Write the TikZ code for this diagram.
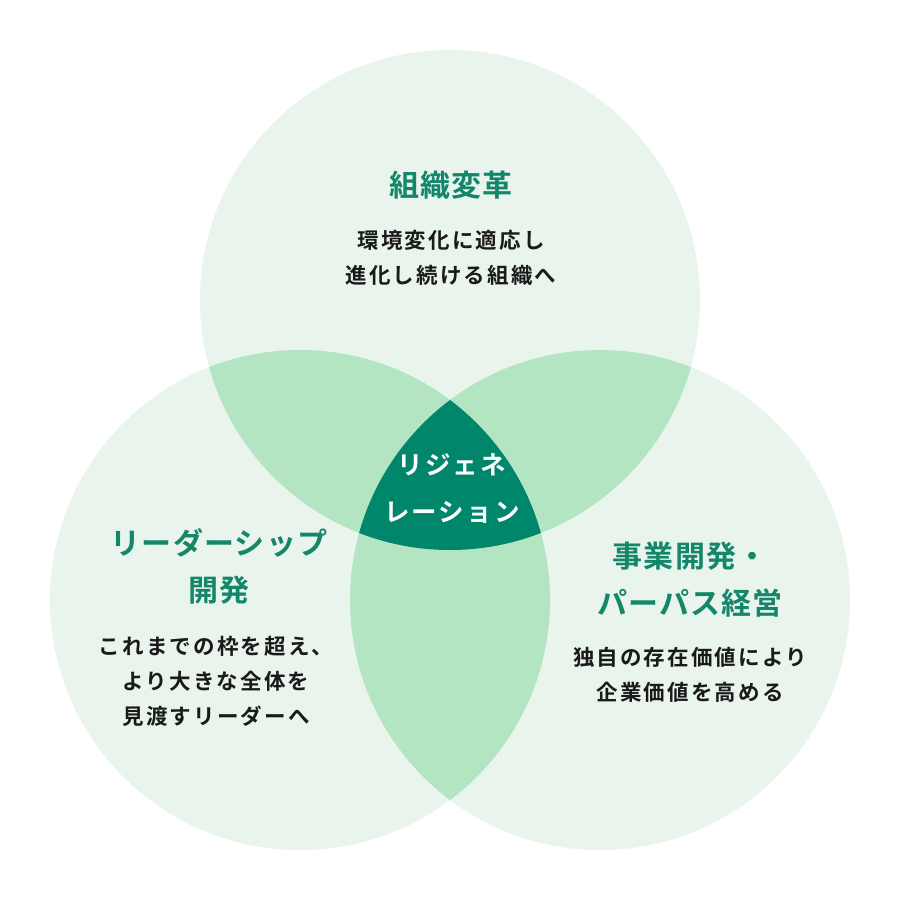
\documentclass[tikz,border=0pt]{standalone}
\usepackage{fontspec}
\newfontfamily\jtitle[LetterSpace=4]{Noto Sans CJK JP Bold}
\newfontfamily\jbody[LetterSpace=10]{Noto Sans CJK JP Bold}
\newfontfamily\jcent[LetterSpace=8]{Noto Sans CJK JP Bold}
\definecolor{lightg}{HTML}{E8F4EC}
\definecolor{midg}{HTML}{B3E5C3}
\definecolor{darkg}{HTML}{00866A}
\definecolor{titleg}{HTML}{14866A}
\definecolor{txt}{HTML}{1A1A1A}
\tikzset{
  ttl/.style={text=titleg, align=center, font=\jtitle\fontsize{30}{47}\selectfont, inner sep=0pt},
  bdy/.style={text=txt, align=center, font=\jbody\fontsize{21.5}{35}\selectfont, inner sep=0pt},
  cnt/.style={text=white, align=center, font=\jcent\fontsize{25.5}{47}\selectfont, inner sep=0pt}
}
\begin{document}
\begin{tikzpicture}[x=1pt,y=-1pt]
\useasboundingbox (0,0) rectangle (900,900);
\fill[white] (0,0) rectangle (900,900);
\coordinate (ct) at (450,300);
\coordinate (cl) at (300,600);
\coordinate (cr) at (600,600);
\fill[lightg] (ct) circle (250);
\fill[lightg] (cl) circle (250);
\fill[lightg] (cr) circle (250);
\begin{scope}
  \clip (ct) circle (250);
  \fill[midg] (cl) circle (250);
  \fill[midg] (cr) circle (250);
\end{scope}
\begin{scope}
  \clip (cl) circle (250);
  \fill[midg] (cr) circle (250);
\end{scope}
\begin{scope}
  \clip (ct) circle (250);
  \clip (cl) circle (250);
  \fill[darkg] (cr) circle (250);
\end{scope}
\node[ttl] (t1) at (451,185) {組織変革};
\node[bdy] (b1) at (451,258) {環境変化に適応し\\進化し続ける組織へ};
\node[ttl] (t2) at (219,566) {リーダーシップ\\開発};
\node[bdy] (b2) at (216,681) {これまでの枠を超え、\\より大きな全体を\\見渡すリーダーへ};
\node[ttl] (t3) at (690,580) {事業開発・\\パーパス経営};
\node[bdy] (b3) at (690,675) {独自の存在価値により\\企業価値を高める};
\node[cnt] (c) at (452,489) {リジェネ\\レーション};
\end{tikzpicture}
\end{document}
